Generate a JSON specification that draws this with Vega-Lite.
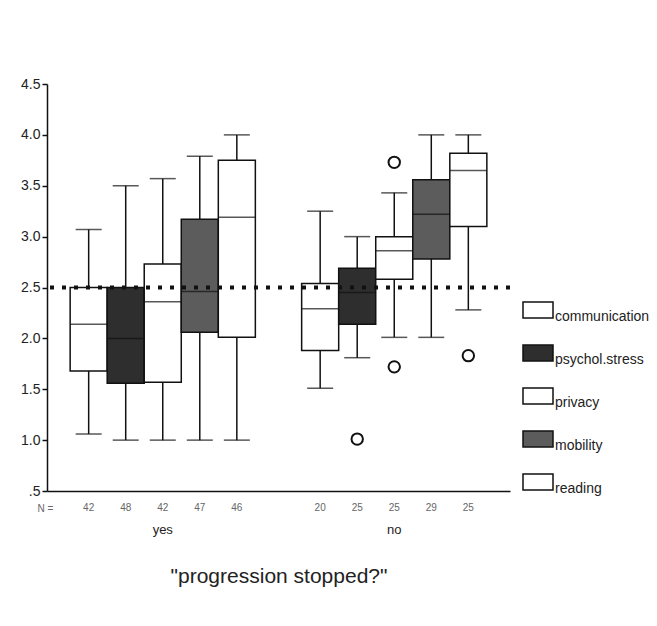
{
  "$schema": "https://vega.github.io/schema/vega-lite/v6.json",
  "autosize": "none",
  "width": 463,
  "height": 407,
  "padding": {"left": 47, "top": 84, "right": 147, "bottom": 135},
  "background": "white",
  "config": {
    "view": {"stroke": null},
    "font": "Liberation Sans",
    "axis": {"grid": false, "domainColor": "#111", "domainWidth": 1.5, "tickColor": "#111", "tickWidth": 1.5, "labelColor": "#222", "labelFont": "Liberation Sans", "titleFont": "Liberation Sans"}
  },
  "datasets": {
    "boxes": [
      {"group": "yes", "variable": "communication", "n": 42, "lower": 1.06, "q1": 1.68, "median": 2.14, "q3": 2.50, "upper": 3.07},
      {"group": "yes", "variable": "psychol.stress", "n": 48, "lower": 1.0, "q1": 1.56, "median": 2.0, "q3": 2.5, "upper": 3.5},
      {"group": "yes", "variable": "privacy", "n": 42, "lower": 1.0, "q1": 1.57, "median": 2.36, "q3": 2.73, "upper": 3.57},
      {"group": "yes", "variable": "mobility", "n": 47, "lower": 1.0, "q1": 2.06, "median": 2.46, "q3": 3.17, "upper": 3.79},
      {"group": "yes", "variable": "reading", "n": 46, "lower": 1.0, "q1": 2.01, "median": 3.19, "q3": 3.75, "upper": 4.0},
      {"group": "no", "variable": "communication", "n": 20, "lower": 1.51, "q1": 1.88, "median": 2.29, "q3": 2.54, "upper": 3.25},
      {"group": "no", "variable": "psychol.stress", "n": 25, "lower": 1.81, "q1": 2.14, "median": 2.45, "q3": 2.69, "upper": 3.0},
      {"group": "no", "variable": "privacy", "n": 25, "lower": 2.01, "q1": 2.58, "median": 2.86, "q3": 3.0, "upper": 3.43},
      {"group": "no", "variable": "mobility", "n": 29, "lower": 2.01, "q1": 2.78, "median": 3.22, "q3": 3.56, "upper": 4.0},
      {"group": "no", "variable": "reading", "n": 25, "lower": 2.28, "q1": 3.10, "median": 3.65, "q3": 3.82, "upper": 4.0}
    ],
    "outliers": [
      {"group": "no", "variable": "psychol.stress", "value": 1.01},
      {"group": "no", "variable": "privacy", "value": 3.73},
      {"group": "no", "variable": "privacy", "value": 1.72},
      {"group": "no", "variable": "reading", "value": 1.83}
    ]
  },
  "encoding": {
    "x": {
      "field": "group", "type": "nominal",
      "scale": {"domain": ["yes", "no"], "paddingInner": 0.2, "paddingOuter": 0.1},
      "axis": {"title": "\"progression stopped?\"", "titleFontSize": 21, "titleFontWeight": "normal", "titleColor": "#222", "titlePadding": 29, "labelAngle": 0, "labelFontSize": 13, "labelPadding": 32, "ticks": false}
    },
    "xOffset": {
      "field": "variable", "type": "nominal",
      "scale": {"domain": ["communication", "psychol.stress", "privacy", "mobility", "reading"], "paddingInner": 0, "paddingOuter": 0}
    }
  },
  "layer": [
    {
      "data": {"name": "boxes"},
      "mark": {"type": "rule", "color": "#111", "strokeWidth": 1.5},
      "encoding": {
        "y": {
          "field": "lower", "type": "quantitative",
          "scale": {"domain": [0.5, 4.5], "nice": false, "zero": false},
          "axis": {"values": [0.5, 1, 1.5, 2, 2.5, 3, 3.5, 4, 4.5], "labelExpr": "datum.value == 0.5 ? '.5' : format(datum.value, '.1f')", "labelFontSize": 14, "tickSize": 5, "labelPadding": 2, "title": "N =", "titleAngle": 0, "titleX": -10, "titleY": 424, "titleAlign": "left", "titleBaseline": "middle", "titleFontSize": 10, "titleFontWeight": "normal", "titleColor": "#666"}
        },
        "y2": {"field": "upper"}
      }
    },
    {
      "data": {"name": "boxes"},
      "mark": {"type": "tick", "color": "#111", "size": 26, "thickness": 1.5},
      "encoding": {"y": {"field": "lower", "type": "quantitative"}}
    },
    {
      "data": {"name": "boxes"},
      "mark": {"type": "tick", "color": "#111", "size": 26, "thickness": 1.5},
      "encoding": {"y": {"field": "upper", "type": "quantitative"}}
    },
    {
      "data": {"name": "boxes"},
      "mark": {"type": "bar", "stroke": "#111", "strokeWidth": 1.5, "opacity": 1},
      "encoding": {
        "y": {"field": "q1", "type": "quantitative"},
        "y2": {"field": "q3"},
        "fill": {
          "field": "variable", "type": "nominal",
          "scale": {"domain": ["communication", "psychol.stress", "privacy", "mobility", "reading"], "range": ["#ffffff", "#2e2e2e", "#ffffff", "#5c5c5c", "#ffffff"]},
          "legend": {
            "title": null, "orient": "none", "legendX": 475, "legendY": 210,
            "symbolType": "M-1,-0.53H1V0.53H-1Z", "symbolSize": 900,
            "symbolStrokeColor": "#111", "symbolStrokeWidth": 1.5, "symbolOpacity": 1,
            "labelFontSize": 14, "labelColor": "#222", "labelOffset": 1, "labelBaseline": "top",
            "rowPadding": 13, "labelLimit": 200
          }
        }
      }
    },
    {
      "data": {"name": "boxes"},
      "mark": {"type": "tick", "color": "#111", "size": 37, "thickness": 1.5},
      "encoding": {"y": {"field": "median", "type": "quantitative"}}
    },
    {
      "data": {"name": "outliers"},
      "mark": {"type": "point", "shape": "circle", "filled": false, "stroke": "#111", "strokeWidth": 2, "size": 130, "opacity": 1},
      "encoding": {"y": {"field": "value", "type": "quantitative"}}
    },
    {
      "data": {"name": "boxes"},
      "mark": {"type": "text", "fontSize": 10, "color": "#666", "dy": 17, "baseline": "middle"},
      "encoding": {
        "y": {"datum": 0.5, "type": "quantitative"},
        "text": {"field": "n", "type": "quantitative"}
      }
    },
    {
      "data": {"values": [{"ref": 2.5}]},
      "mark": {"type": "rule", "color": "#111", "strokeWidth": 4, "strokeDash": [4, 8]},
      "encoding": {"y": {"field": "ref", "type": "quantitative"}, "xOffset": null, "x": null}
    }
  ]
}
